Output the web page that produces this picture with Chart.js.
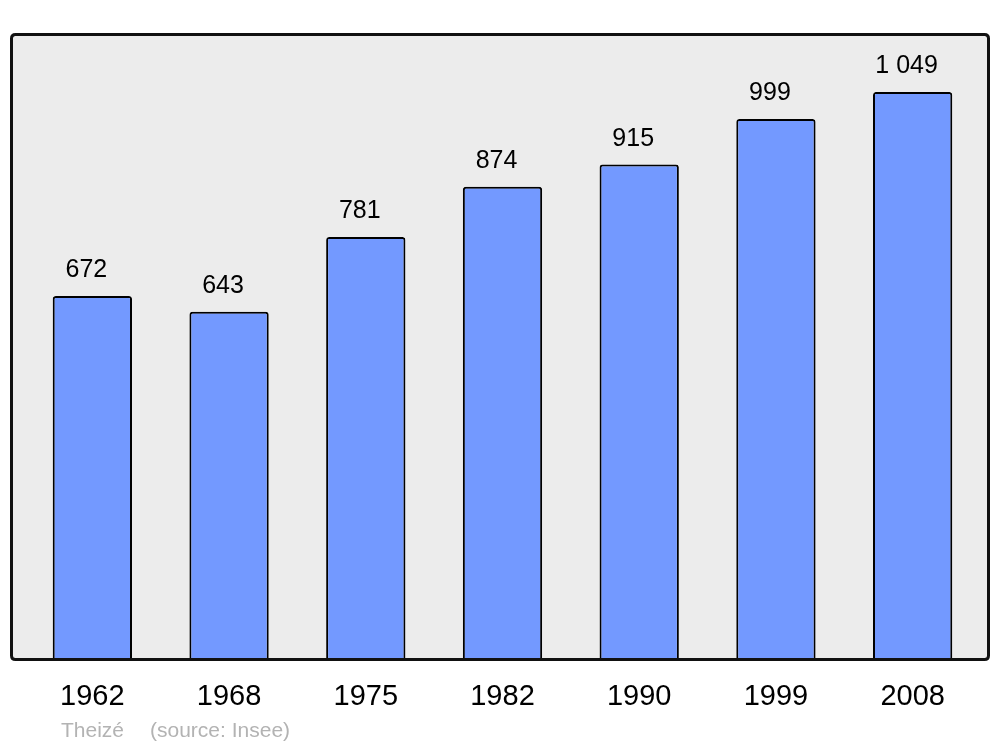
<!DOCTYPE html>
<html>
<head>
<meta charset="utf-8">
<script src="https://cdn.jsdelivr.net/npm/chart.js@4/dist/chart.umd.min.js"></script>
<style>
    body { margin: 0; background: #fff; }
    canvas { display: block; }
</style>
</head>
<body>
<canvas id="popChart" width="1000" height="747"></canvas>
<script>
const years = ['1962', '1968', '1975', '1982', '1990', '1999', '2008'];
const population = [672, 643, 781, 874, 915, 999, 1049];
const valueLabels = ['672', '643', '781', '874', '915', '999', '1 049'];
const townName = 'Theizé';
const sourceText = '(source: Insee)';

function roundRect(c, x, y, w, h, r) {
    c.beginPath();
    c.moveTo(x + r, y);
    c.lineTo(x + w - r, y);
    c.quadraticCurveTo(x + w, y, x + w, y + r);
    c.lineTo(x + w, y + h - r);
    c.quadraticCurveTo(x + w, y + h, x + w - r, y + h);
    c.lineTo(x + r, y + h);
    c.quadraticCurveTo(x, y + h, x, y + h - r);
    c.lineTo(x, y + r);
    c.quadraticCurveTo(x, y, x + r, y);
    c.closePath();
}

const frame = {
    id: 'frame',
    beforeDatasetsDraw(chart) {
        const c = chart.ctx;
        c.save();
        roundRect(c, 11.5, 34.5, 977, 625, 4);
        c.fillStyle = '#ececec';
        c.fill();
        c.restore();
    },
    afterDatasetsDraw(chart) {
        const c = chart.ctx;
        c.save();
        // value above each bar
        c.font = '25px "Liberation Sans", Arial, sans-serif';
        c.fillStyle = '#000';
        c.textAlign = 'center';
        c.textBaseline = 'alphabetic';
        chart.getDatasetMeta(0).data.forEach((bar, i) => {
            c.fillText(valueLabels[i], bar.x - 6, bar.y - 19);
        });
        // frame border
        roundRect(c, 11.5, 34.5, 977, 625, 4);
        c.lineWidth = 3;
        c.strokeStyle = '#111';
        c.stroke();
        // footer
        c.font = '21px "Liberation Sans", Arial, sans-serif';
        c.fillStyle = '#b3b3b3';
        c.textAlign = 'left';
        c.fillText(townName, 61, 737);
        c.fillText(sourceText, 150, 737);
        c.restore();
    }
};

new Chart(document.getElementById('popChart'), {
    type: 'bar',
    data: {
        labels: years,
        datasets: [{
            data: population,
            backgroundColor: '#7399ff',
            borderColor: '#000',
            borderWidth: 2,
            borderSkipped: 'bottom',
            borderRadius: { topLeft: 3, topRight: 3, bottomLeft: 0, bottomRight: 0 },
            barPercentage: 0.58,
            categoryPercentage: 1
        }]
    },
    options: {
        responsive: false,
        animation: false,
        layout: {
            padding: { left: 24, right: 19, top: 34, bottom: 0 }
        },
        plugins: {
            legend: { display: false },
            tooltip: { enabled: false }
        },
        scales: {
            x: {
                grid: { display: false, drawTicks: false },
                border: { display: false },
                ticks: {
                    color: '#000',
                    padding: 20,
                    font: { size: 29, family: '"Liberation Sans", Arial, sans-serif' }
                },
                afterFit(scale) { scale.height = 87; }
            },
            y: {
                display: false,
                min: 0,
                max: 1156
            }
        }
    },
    plugins: [frame]
});
</script>
</body>
</html>
